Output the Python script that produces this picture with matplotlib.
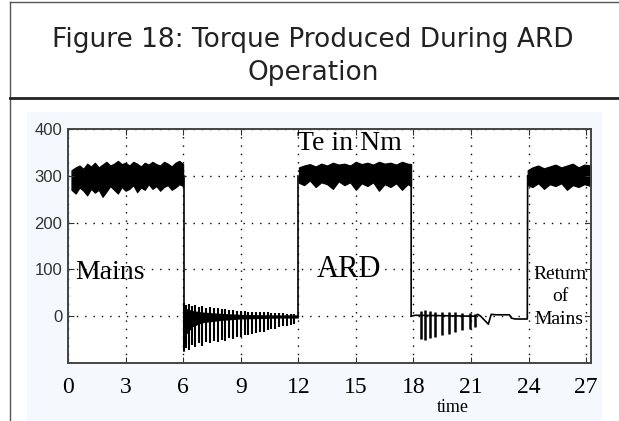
import matplotlib
matplotlib.use("Agg")
import matplotlib.pyplot as plt
from matplotlib.lines import Line2D
from matplotlib.patches import Rectangle

# Mains segment 0-6 s: band envelope (Nm)
t_a = [0.18, 0.4, 0.6, 0.8, 1.0, 1.2, 1.4, 1.6, 1.8, 2.0, 2.2, 2.4, 2.6, 2.8, 3.0,
       3.2, 3.4, 3.6, 3.8, 4.0, 4.2, 4.4, 4.6, 4.8, 5.0, 5.2, 5.4, 5.6, 5.8, 6.0]
up_a = [312, 318, 322, 315, 326, 320, 328, 318, 324, 330, 322, 326, 332, 325, 328,
        322, 330, 326, 320, 328, 324, 330, 325, 322, 330, 326, 320, 328, 332, 325]
lo_a = [270, 262, 275, 268, 258, 272, 264, 270, 255, 266, 278, 270, 262, 276, 268,
        272, 280, 265, 275, 270, 282, 272, 278, 268, 276, 280, 270, 275, 282, 278]

# ARD segment 6-12 s: decaying spikes
t_b = [6.05, 6.15, 6.3, 6.45, 6.6, 6.8, 7.0, 7.2, 7.4, 7.6, 7.8, 8.0, 8.2, 8.4, 8.6, 8.8,
       9.0, 9.2, 9.4, 9.6, 9.8, 10.0, 10.2, 10.4, 10.6, 10.8, 11.0, 11.2, 11.4, 11.6, 11.8]
lo_b = [-75, -68, -72, -62, -66, -58, -63, -55, -58, -52, -55, -50, -52, -47, -48, -44,
        -45, -40, -41, -37, -36, -33, -33, -30, -28, -27, -24, -22, -22, -18, -16]
hi_b = [28, 25, 27, 22, 24, 20, 22, 18, 20, 17, 18, 15, 16, 14, 14, 12,
        12, 11, 10, 10, 9, 9, 8, 8, 7, 7, 6, 6, 5, 5, 4]
t_b_core = [6.03, 6.5, 7.0, 8.0, 9.0, 10.0, 11.0, 12.0]
up_b_core = [18, 12, 9, 6, 4, 3, 2, 2]
lo_b_core = [-45, -22, -14, -9, -6, -5, -4, -4]

# Mains segment 12-18 s
t_c = [12.03, 12.3, 12.6, 12.9, 13.2, 13.5, 13.8, 14.1, 14.4, 14.7, 15.0, 15.3, 15.6,
       15.9, 16.2, 16.5, 16.8, 17.1, 17.4, 17.7, 17.88]
up_c = [318, 322, 325, 320, 326, 322, 328, 324, 326, 322, 330, 325, 328, 324, 330,
        326, 328, 324, 330, 326, 325]
lo_c = [285, 280, 290, 276, 286, 282, 272, 288, 280, 286, 270, 284, 278, 286, 268,
        282, 276, 284, 270, 282, 278]

# ARD segment 18-24 s
t_d = [18.37, 18.62, 18.88, 19.14, 19.49, 19.83, 20.18, 20.52, 20.95, 21.21]
lo_d = [-48, -50, -46, -44, -40, -38, -34, -30, -28, -24]
hi_d = [12, 14, 12, 10, 10, 9, 8, 7, 6, 5]
t_d_line = [17.88, 17.88, 18.1, 21.2, 21.35, 21.5, 21.9, 22.05, 22.3, 23.0, 23.1, 23.3,
            23.93, 23.95]
v_d_line = [300, 0, 2, 0, 4, 0, -17, 4, 3, 3, -4, -6, -6, 300]

# Return of mains 24-27 s
t_e = [23.95, 24.2, 24.5, 24.8, 25.1, 25.4, 25.7, 26.0, 26.3, 26.6, 26.9, 27.25]
up_e = [312, 318, 322, 316, 320, 324, 318, 322, 326, 318, 324, 322]
lo_e = [280, 276, 284, 272, 282, 278, 284, 270, 280, 276, 282, 278]

x_ticks = [0, 3, 6, 9, 12, 15, 18, 21, 24, 27]
y_ticks = [0, 100, 200, 300, 400]

W, H = 619, 421
fig = plt.figure(figsize=(W / 100, H / 100), dpi=100)

# frame of the caption box
fig.add_artist(Line2D([10 / W, 1], [1 - 2 / H, 1 - 2 / H], color="#555555", lw=1))
fig.add_artist(Line2D([10 / W, 10 / W], [0, 1 - 2 / H], color="#555555", lw=1))
fig.add_artist(Line2D([10 / W, 1], [1 - 98 / H, 1 - 98 / H], color="#222222", lw=2))
fig.add_artist(Rectangle((27 / W, 0), 575 / W, 1 - 112 / H, transform=fig.transFigure,
                         facecolor="#f5f8fc", edgecolor="none", zorder=0))

fig.text(313 / W, 1 - 40 / H, "Figure 18: Torque Produced During ARD", ha="center",
         va="center", fontsize=19, color="#222222", family="DejaVu Sans")
fig.text(313 / W, 1 - 73 / H, "Operation", ha="center", va="center",
         fontsize=19, color="#222222", family="DejaVu Sans")

ax = fig.add_axes([68 / W, 1 - 363 / H, (591 - 68) / W, (363 - 129) / H])
k = "black"
ax.fill_between(t_a, lo_a, up_a, color=k, lw=0.8)
ax.fill_between(t_c, lo_c, up_c, color=k, lw=0.8)
ax.fill_between(t_e, lo_e, up_e, color=k, lw=0.8)
ax.fill_between(t_b_core, lo_b_core, up_b_core, color=k, lw=0)
ax.vlines(t_b, lo_b, hi_b, color=k, lw=1.5)
ax.vlines(t_d, lo_d, hi_d, color=k, lw=1.8)
ax.plot(t_d_line, v_d_line, color=k, lw=1.2)
# step transitions
ax.plot([6.03, 6.03], [300, -75], color=k, lw=1.2)
ax.plot([12.0, 12.0], [0, 300], color=k, lw=1.2)
ax.plot([6.03, 12.0], [-2, 0], color=k, lw=1.2)

ax.set_xlim(0.18, 27.25)
ax.set_ylim(-100, 400)
ax.set_xticks(x_ticks)
ax.set_yticks(y_ticks)
ax.grid(True, color="black", linestyle=(0, (1, 5)), lw=1)
ax.tick_params(direction="in", top=True, right=True, length=4, color="#333333")
for s in ax.spines.values():
    s.set_color("#444444")
    s.set_linewidth(1.4)
ax.set_facecolor("white")
for lab in ax.get_xticklabels():
    lab.set_family("Liberation Serif")
    lab.set_fontsize(17)
for lab in ax.get_yticklabels():
    lab.set_family(["Liberation Sans Narrow", "Liberation Sans"])
    lab.set_fontsize(12)
    lab.set_color("#333333")
ax.tick_params(axis="x", pad=10)
ax.tick_params(axis="y", pad=4)

serif = "Liberation Serif"
ax.text(2.2, 94, "Mains", family=serif, fontsize=20, ha="center", va="center")
ax.text(14.65, 100, "ARD", family=serif, fontsize=22, ha="center", va="center")
ax.text(11.95, 370, "Te in Nm", family=serif, fontsize=20, ha="left", va="center")
ax.text(25.65, 90, "Return", family=serif, fontsize=14, ha="center", va="center")
ax.text(25.65, 42, "of", family=serif, fontsize=14, ha="center", va="center")
ax.text(25.6, -7, "Mains", family=serif, fontsize=14, ha="center", va="center")
fig.text(453 / W, 1 - 408 / H, "time", family=serif, fontsize=13, ha="center", va="center")

fig.savefig("out.png", dpi=100)
